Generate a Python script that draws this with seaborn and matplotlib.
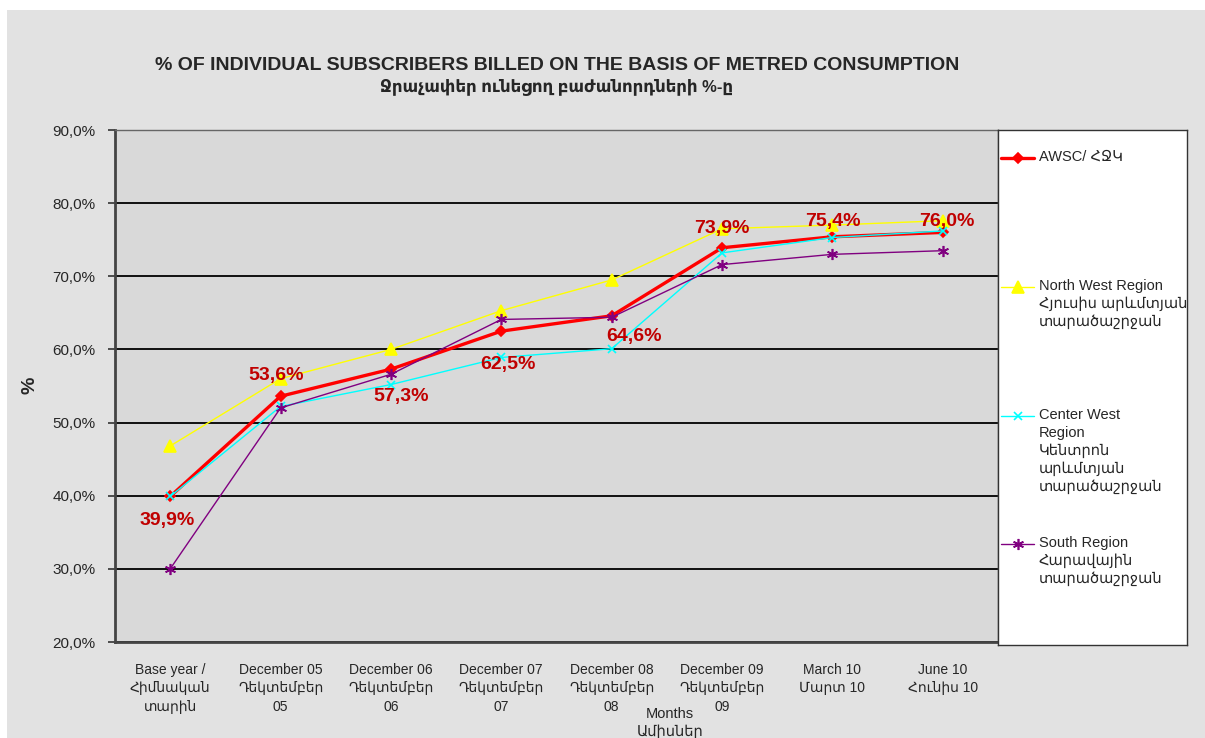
import numpy as np
import pandas as pd
import seaborn as sns
import matplotlib.pyplot as plt
from matplotlib.patches import Rectangle

months = [
    "Base year /\nՀիմնական\nտարին",
    "December 05\nԴեկտեմբեր\n05",
    "December 06\nԴեկտեմբեր\n06",
    "December 07\nԴեկտեմբեր\n07",
    "December 08\nԴեկտեմբեր\n08",
    "December 09\nԴեկտեմբեր\n09",
    "March 10\nՄարտ 10",
    "June 10\nՀունիս 10",
]
awsc = [39.9, 53.6, 57.3, 62.5, 64.6, 73.9, 75.4, 76.0]
north_west = [46.8, 56.0, 60.0, 65.3, 69.5, 76.5, 77.0, 77.6]
center_west = [39.9, 52.2, 55.2, 58.9, 60.1, 73.2, 75.3, 76.2]
south = [30.0, 52.0, 56.6, 64.1, 64.4, 71.6, 73.0, 73.5]

series_names = [
    "AWSC/ ՀՋԿ",
    "North West Region\nՀյուսիս արևմտյան\nտարածաշրջան",
    "Center West\nRegion\nԿենտրոն\nարևմտյան\nտարածաշրջան",
    "South Region\nՀարավային\nտարածաշրջան",
]
series_values = [awsc, north_west, center_west, south]
series_colors = ["#FF0000", "#FFFF00", "#00FFFF", "#800080"]
series_markers = ["D", "^", "x", (6, 2, 0)]
series_sizes = [5, 8, 6, 8]
series_widths = [2.4, 1.0, 1.0, 1.0]

# label placement offsets (points) for the AWSC values
label_offsets = [(-2, -17), (-3, 15), (7, -20), (5, -24), (16, -15), (0, 14), (0, 11), (3, 8)]

sns.set_style("white")
plt.rcParams["font.family"] = ["Liberation Sans", "DejaVu Sans"]

fig = plt.figure(figsize=(12.05, 7.38), dpi=100, facecolor="white")
fig.patches.append(Rectangle((7 / 1205, 0), 1, 1 - 10 / 738, transform=fig.transFigure,
                             facecolor="#e2e2e2", edgecolor="none", zorder=-10))

ax = fig.add_axes([115 / 1205, 1 - 642 / 738, 883 / 1205, 512 / 738])
ax.set_facecolor("#d9d9d9")

x = np.arange(len(months))
lines = []
for name, vals, col, mk, ms, lw in zip(series_names, series_values, series_colors,
                                       series_markers, series_sizes, series_widths):
    df = pd.DataFrame({"x": x, "v": vals})
    sns.lineplot(data=df, x="x", y="v", ax=ax, color=col, marker=mk, markersize=ms,
                 linewidth=lw, markeredgecolor=col, markeredgewidth=1.2, zorder=3)
    lines.append(ax.lines[-1])

for xi, v, off in zip(x, awsc, label_offsets):
    ax.annotate(f"{v:.1f}%".replace(".", ","), (xi, v), xytext=off, textcoords="offset points",
                ha="center", va="center", fontsize=14, fontweight="bold", color="#C00000", zorder=5)

ax.set_xlim(-0.5, len(months) - 0.5)
ax.set_ylim(20, 90)
yt = np.arange(20, 91, 10)
ax.set_yticks(yt)
ax.set_yticklabels([f"{t:.1f}%".replace(".", ",") for t in yt], fontsize=11)
ax.set_xticks(x)
ax.set_xticklabels(months, fontsize=10, linespacing=1.4)
ax.set_xticks(np.arange(-0.5, len(months), 1), minor=True)
ax.tick_params(axis="x", which="major", length=0, pad=15)
ax.tick_params(axis="x", which="minor", length=5, width=1.2, color="#333333", direction="out")
ax.tick_params(axis="y", length=5, width=1.2, color="#333333", direction="out", left=True, pad=9)
ax.yaxis.grid(True, color="black", linewidth=1.3)
ax.set_axisbelow(True)
ax.set_xlabel("")
ax.set_ylabel("")
for s in ["left", "bottom"]:
    ax.spines[s].set_color("#444444")
    ax.spines[s].set_linewidth(2)
for s in ["top", "right"]:
    ax.spines[s].set_color("#666666")
    ax.spines[s].set_linewidth(1)

# legend panel
lax = fig.add_axes([998 / 1205, 1 - 645 / 738, 189 / 1205, 515 / 738])
lax.set_facecolor("white")
lax.set_xlim(0, 189)
lax.set_ylim(515, 0)
lax.set_xticks([])
lax.set_yticks([])
for s in lax.spines.values():
    s.set_color("#333333")
    s.set_linewidth(1)
entry_y = [28, 157, 286, 414]
for ln, name, ey in zip(lines, series_names, entry_y):
    lax.plot([3, 36], [ey, ey], color=ln.get_color(), linewidth=ln.get_linewidth())
    lax.plot([20], [ey], color=ln.get_color(), marker=ln.get_marker(),
             markersize=ln.get_markersize(), markeredgecolor=ln.get_color(), markeredgewidth=1.2)
    lax.text(41, ey - 8, name, fontsize=10.5, va="top", ha="left", linespacing=1.32)

fig.text(557 / 1205, 1 - 65 / 738,
         "% OF INDIVIDUAL SUBSCRIBERS BILLED ON THE BASIS OF METRED CONSUMPTION",
         ha="center", va="center", fontsize=14, fontweight="bold")
fig.text(557 / 1205, 1 - 87 / 738, "Ջրաչափեր ունեցող բաժանորդների %-ը",
         ha="center", va="center", fontsize=12, fontweight="bold")
fig.text(30 / 1205, 1 - 385 / 738, "%", rotation=90, ha="center", va="center",
         fontsize=14, fontweight="bold")
fig.text(670 / 1205, 1 - 707 / 738, "Months\nԱմիսներ", ha="center", va="top",
         fontsize=10.5, linespacing=1.25)

fig.savefig("out.png", dpi=100, facecolor=fig.get_facecolor())
